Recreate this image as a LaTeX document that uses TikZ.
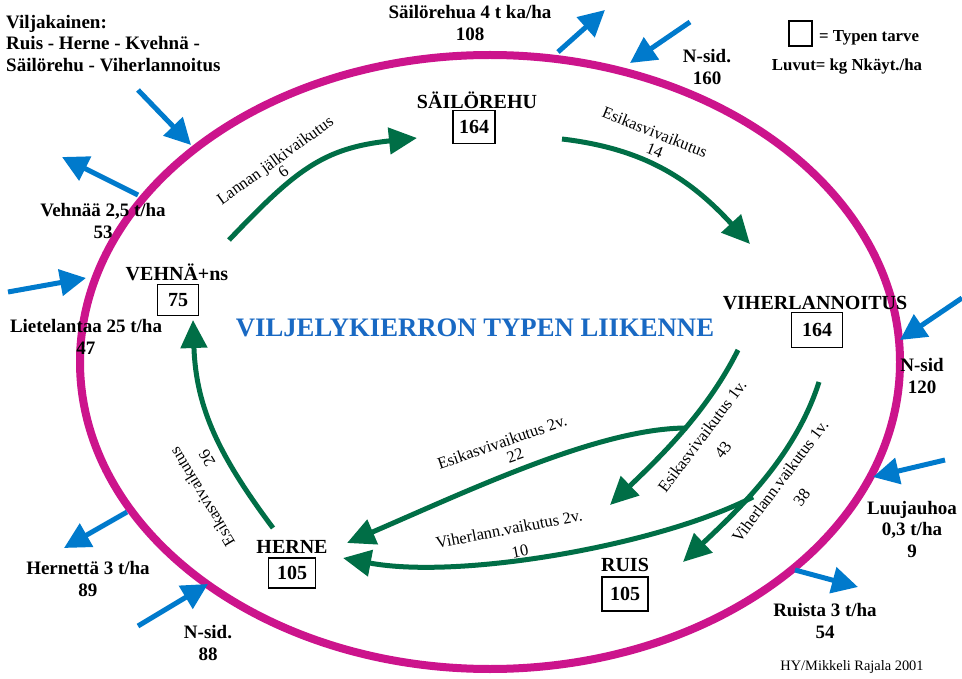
\documentclass[tikz,border=0pt]{standalone}
\usepackage{fontspec}
\setmainfont{Liberation Serif}
\usetikzlibrary{arrows.meta}
\definecolor{ringc}{RGB}{204,20,140}
\definecolor{bluec}{RGB}{0,122,204}
\definecolor{greenc}{RGB}{0,110,70}
\definecolor{titlec}{RGB}{25,105,195}
\begin{document}
\begin{tikzpicture}[x=1pt,y=-1pt,
  ring/.style={draw=ringc,line width=8pt},
  flow/.style={draw=greenc,line width=5pt,-{Triangle[length=28pt,width=26pt]}},
  nflow/.style={draw=bluec,line width=5pt,-{Triangle[length=26pt,width=26pt]}},
  croptitle/.style={font=\fontsize{20}{22}\selectfont\bfseries,inner sep=0pt},
  needbox/.style={draw,line width=1.3pt,font=\fontsize{20}{22}\selectfont\bfseries,inner sep=0pt},
  lab/.style={font=\fontsize{19}{21.5}\selectfont\bfseries,align=center,inner sep=0pt},
  glab/.style={font=\fontsize{16.5}{17}\selectfont,inner sep=0pt,align=center},
]
\useasboundingbox (0,0) rectangle (962,679);
\fill[white] (0,0) rectangle (962,679);

% ring
\draw[ring] (490,362) ellipse [x radius=410, y radius=307];

% crops
\node[croptitle] (sailT) at (477,100) {SÄILÖREHU};
\node[needbox,minimum width=42pt,minimum height=33pt] (sailN) at (474,127) {164};
\node[croptitle] (viherT) at (815,303) {VIHERLANNOITUS};
\node[needbox,minimum width=51pt,minimum height=35pt] (viherN) at (817,330) {164};
\node[croptitle] (vehT) at (177,272) {VEHNÄ+ns};
\node[needbox,minimum width=41pt,minimum height=31pt] (vehN) at (178,300) {75};
\node[croptitle] (herT) at (292,547) {HERNE};
\node[needbox,minimum width=47pt,minimum height=30pt] (herN) at (292,573) {105};
\node[croptitle] (ruisT) at (625,565) {RUIS};
\node[needbox,minimum width=46pt,minimum height=34pt] (ruisN) at (625,594) {105};

% main title
\node[font=\fontsize{26.7}{30}\selectfont\bfseries,text=titlec,inner sep=0pt] (mainT) at (475,328) {VILJELYKIERRON TYPEN LIIKENNE};

% info block
\node[lab,align=left,anchor=west] (info) at (6,43.5) {Viljakainen:\\Ruis - Herne - Kvehnä -\\Säilörehu - Viherlannoitus};

% legend
\node[draw,line width=1.3pt,minimum width=23pt,minimum height=25pt,inner sep=0pt] (legbox) at (800.5,33.5) {};
\node[font=\fontsize{16.8}{19}\selectfont\bfseries,inner sep=0pt,anchor=west] (legA) at (819,38) {= Typen tarve};
\node[font=\fontsize{16.8}{19}\selectfont\bfseries,inner sep=0pt] (legB) at (847,67) {Luvut= kg Nkäyt./ha};

% outside labels
\node[lab] (oSail) at (470,23) {Säilörehua 4 t ka/ha\\108};
\node[lab] (oN160) at (707,67) {N-sid.\\160};
\node[lab] (oVeh) at (103,221) {Vehnää 2,5 t/ha\\53};
\node[lab] (oLiet) at (86,337) {Lietelantaa 25 t/ha\\47};
\node[lab] (oHer) at (88,579) {Hernettä 3 t/ha\\89};
\node[lab] (oN88) at (208,643) {N-sid.\\88};
\node[lab] (oRuis) at (825,621) {Ruista 3 t/ha\\54};
\node[lab] (oN120) at (922,376) {N-sid\\120};
\node[lab] (oLuu) at (912,529) {Luujauhoa\\0,3 t/ha\\9};
\node[font=\fontsize{14.4}{16}\selectfont,inner sep=0pt] (credit) at (852,667) {HY/Mikkeli Rajala 2001};

% blue arrows (coordinates)
\coordinate (b1s) at (138,90);  \coordinate (b1e) at (191,145);
\coordinate (b2s) at (138,195); \coordinate (b2e) at (62,157);
\coordinate (b3s) at (8,292);   \coordinate (b3e) at (86,278);
\coordinate (b4s) at (127,512); \coordinate (b4e) at (64,548);
\coordinate (b5s) at (138,626); \coordinate (b5e) at (208,584);
\coordinate (b6s) at (558,52);  \coordinate (b6e) at (605,10);
\coordinate (b7s) at (690,22);  \coordinate (b7e) at (630,63);
\coordinate (b8s) at (962,298); \coordinate (b8e) at (900,340);
\coordinate (b9s) at (945,460); \coordinate (b9e) at (873,477);
\coordinate (b10s) at (795,570); \coordinate (b10e) at (858,587);
\foreach \i in {1,...,10} \draw[nflow] (b\i s) -- (b\i e);

% green flows
\coordinate (g1s) at (229,240); \coordinate (g1e) at (417,138);
\draw[flow] (g1s) .. controls (295,171) and (322,148) .. (g1e);
\coordinate (g2s) at (562,139); \coordinate (g2e) at (750,244);
\draw[flow] (g2s) .. controls (647,149) and (692,181) .. (g2e);
\coordinate (g3s) at (273,528); \coordinate (g3e) at (193,320);
\draw[flow] (g3s) .. controls (220,457) and (196,409) .. (g3e);
\coordinate (g4s) at (738,350); \coordinate (g4e) at (610,505);
\draw[flow] (g4s) .. controls (707,412) and (660,457) .. (g4e);
\coordinate (g4j) at (687,428); \coordinate (g5e) at (347,543);
\draw[flow] (g4j) .. controls (600,428) and (470,490) .. (g5e);
\coordinate (g6s) at (819,382); \coordinate (g6e) at (683,562);
\draw[flow] (g6s) .. controls (795,457) and (738,510) .. (g6e);
\coordinate (g6j) at (753,497); \coordinate (g7e) at (343,558);
\draw[flow] (g6j) .. controls (660,545) and (460,580) .. (g7e);

% green labels
\node[glab,rotate=35.6] (l1) at (279,165.7) {Lannan jälkivaikutus\\[-3pt]6};
\node[glab,rotate=-22] (l2) at (651.8,139.9) {Esikasvivaikutus\\\hspace*{13.5pt}14};
\node[glab,rotate=121] (l3) at (212.3,490.8) {Esikasvivaikutus\\[7pt]\hspace*{61pt}26};
\node[glab,rotate=19] (l4) at (504.8,450) {Esikasvivaikutus 2v.\\\hspace*{16pt}22};
\node[glab,rotate=11] (l5) at (511.3,540.8) {Viherlann.vaikutus 2v.\\[7pt]\hspace*{13pt}10};
\node[glab,rotate=53] (l6) at (712,443.5) {Esikasvivaikutus 1v.\\[8pt]\hspace*{3pt}43};
\node[glab,rotate=53] (l7) at (790.8,489.1) {Viherlann.vaikutus 1v.\\[10pt]38};
\end{tikzpicture}
\end{document}
